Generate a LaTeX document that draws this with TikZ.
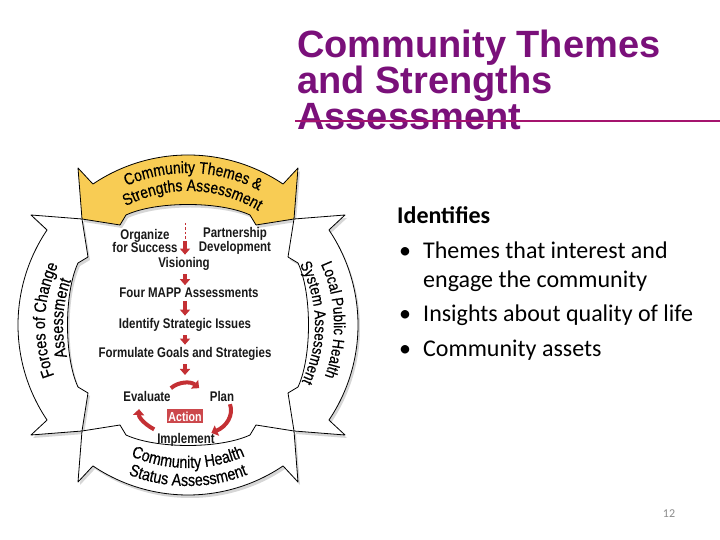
\documentclass[tikz,border=0pt]{standalone}
\usepackage{fontspec}
\setmainfont{Carlito}
\newfontfamily\titlefont{Liberation Sans}
\newfontfamily\bandfont[FakeStretch=0.84, FakeBold=0.4]{Liberation Sans}
\newfontfamily\stepfont[FakeStretch=0.82]{Liberation Sans}
\usetikzlibrary{positioning, decorations.text, arrows.meta}

\definecolor{titlepurple}{RGB}{122,16,122}
\definecolor{rulemagenta}{RGB}{165,20,110}
\definecolor{bandyellow}{RGB}{248,204,84}
\definecolor{mappred}{RGB}{196,48,52}
\definecolor{actionred}{RGB}{204,72,76}
\definecolor{pagegray}{RGB}{140,140,140}

\newcommand{\bandsize}{\bandfont\fontsize{17}{17}\selectfont}
\newcommand{\topsize}{\bandfont\fontsize{16.5}{16.5}\selectfont}
\newcommand{\sidesize}{\bandfont\fontsize{16}{16}\selectfont}
\newcommand{\bandpath}{(-110,157) -- (124:170) arc[start angle=124, end angle=56, radius=170]
  -- (110,157) -- (106,106) -- (68,100) -- (62,110) .. controls (32,124) and (-32,124) .. (-62,110)
  -- (-68,100) -- (-106,106) -- cycle}

\begin{document}
\begin{tikzpicture}[x=1pt, y=1pt,
    band/.style={draw=black, line width=0.8pt, line join=round},
    bandshadow/.style={fill=black!16, draw=none},
    bandlabel/.style={decorate, decoration={text along path, text align=center, text={#1}}},
    steptext/.style={font=\stepfont\bfseries\fontsize{14}{13.5}\selectfont, text=black!90, inner sep=1pt, align=center},
    steparrow/.style={mappred, line width=3.5pt, shorten <=2pt, shorten >=2pt, -{Triangle[length=6pt, width=10pt]}},
    cyclearrow/.style={mappred, line width=4pt, -{Triangle[length=6pt, width=11pt]}},
    bodytext/.style={font=\fontsize{24}{24}\selectfont, inner sep=0pt, anchor=base west},
    titletext/.style={font=\titlefont\bfseries\fontsize{38}{38}\selectfont, text=titlepurple, inner sep=0pt, anchor=base west}
  ]
  \useasboundingbox (0,0) rectangle (720,540);
  \fill[white] (0,0) rectangle (720,540);

  % Title
  \node[titletext] (title1) at (297,482) {Community Themes};
  \node[titletext] (title2) at (297,446) {and Strengths};
  \node[titletext] (title3) at (297,410) {Assessment};
  \coordinate (rulestart) at (295,419);
  \coordinate (ruleend) at (720,419);
  \draw[rulemagenta, line width=2.5pt] (rulestart) -- (ruleend);

  % Ring of assessments
  \coordinate (ctr) at (188,215);
  \coordinate (shd) at (190,212);
  \foreach \ang in {0,-90,180,90}
    \fill[bandshadow, shift={(shd)}, rotate=\ang] \bandpath;
  \foreach \ang/\col in {0/bandyellow,-90/white,180/white,90/white}
    \filldraw[band, fill=\col, shift={(ctr)}, rotate=\ang] \bandpath;

  % Band labels
  \path[bandlabel={|\topsize|Community Themes {\&}}] (ctr) ++(128:152) arc[start angle=128, end angle=48, radius=152];
  \path[bandlabel={|\topsize|Strengths Assessment}] (ctr) ++(130:134) arc[start angle=130, end angle=46, radius=134];
  \path[bandlabel={|\sidesize|Local Public Health}] (ctr) ++(42:146) arc[start angle=42, end angle=-38, radius=146];
  \path[bandlabel={|\sidesize|System Assessment}] (ctr) ++(42:127) arc[start angle=42, end angle=-40, radius=127];
  \path[bandlabel={|\bandsize|Community Health}] (ctr) ++(-130:143) arc[start angle=-130, end angle=-50, radius=143];
  \path[bandlabel={|\bandsize|Status Assessment}] (ctr) ++(-130:161) arc[start angle=-130, end angle=-50, radius=161];
  \path[bandlabel={|\bandsize|Forces of Change}] (ctr) ++(218:143) arc[start angle=218, end angle=138, radius=143];
  \path[bandlabel={|\bandsize|Assessment}] (ctr) ++(217:125) arc[start angle=217, end angle=137, radius=125];

  % Steps
  \node[steptext] (org) at (145,299) {Organize\\for Success};
  \node[steptext] (part) at (235,299) {Partnership\\Development};
  \node[steptext, anchor=base] (vision) at (184,272) {Visioning};
  \node[steptext, anchor=base] (four) at (189,242) {Four MAPP Assessments};
  \node[steptext, anchor=base] (issues) at (185,211) {Identify Strategic Issues};
  \node[steptext, anchor=base] (formul) at (185,182) {Formulate Goals and Strategies};
  \node[steptext, anchor=base] (evalu) at (147,138) {Evaluate};
  \node[steptext, anchor=base] (plan) at (222,138) {Plan};
  \node[fill=actionred, text=white, font=\stepfont\bfseries\fontsize{13}{13}\selectfont,
        minimum width=35pt, minimum height=14pt, inner sep=1pt] (action) at (185,123.5) {Action};
  \node[steptext, anchor=base] (implement) at (186,96) {Implement};

  % Step arrows
  \coordinate (axis) at (185,0);
  \coordinate (dashtop) at (185,317);
  \coordinate (dashend) at (185,301);
  \coordinate (cyctop) at (185,163);
  \draw[mappred, line width=1pt, dash pattern=on 2.5pt off 2pt] (dashtop) -- (dashend);
  \draw[steparrow] (dashend) -- (vision.north -| axis);
  \draw[steparrow] (vision.south -| axis) -- (four.north -| axis);
  \draw[steparrow] (four.south -| axis) -- (issues.north -| axis);
  \draw[steparrow] (issues.south -| axis) -- (formul.north -| axis);
  \draw[steparrow] (formul.south -| axis) -- (cyctop);

  % Action cycle
  \coordinate (cyc) at (185,130);
  \coordinate (cycup) at (185,135);
  \draw[cyclearrow] (cycup) ++(130:22) arc[start angle=130, end angle=50, radius=22];
  \draw[cyclearrow] (cyc) ++(12:46 and 28) arc[start angle=12, end angle=-55, x radius=46, y radius=28];
  \draw[cyclearrow] (cyc) ++(-132:46 and 26) arc[start angle=-132, end angle=-182, x radius=46, y radius=26];

  % Text on the right
  \node[bodytext, font=\bfseries\fontsize{24}{24}\selectfont] (idhead) at (397,316) {Identifies};
  \node[bodytext] (bullet1) at (399,281) {•};
  \node[bodytext] (item1) at (423,281) {Themes that interest and};
  \node[bodytext] (item1b) at (423,252) {engage the community};
  \node[bodytext] (bullet2) at (399,218) {•};
  \node[bodytext] (item2) at (423,218) {Insights about quality of life};
  \node[bodytext] (bullet3) at (399,183) {•};
  \node[bodytext] (item3) at (423,183) {Community assets};

  % Page number
  \node[font=\fontsize{12}{12}\selectfont, text=pagegray] (pagenum) at (669,26) {12};
\end{tikzpicture}
\end{document}
